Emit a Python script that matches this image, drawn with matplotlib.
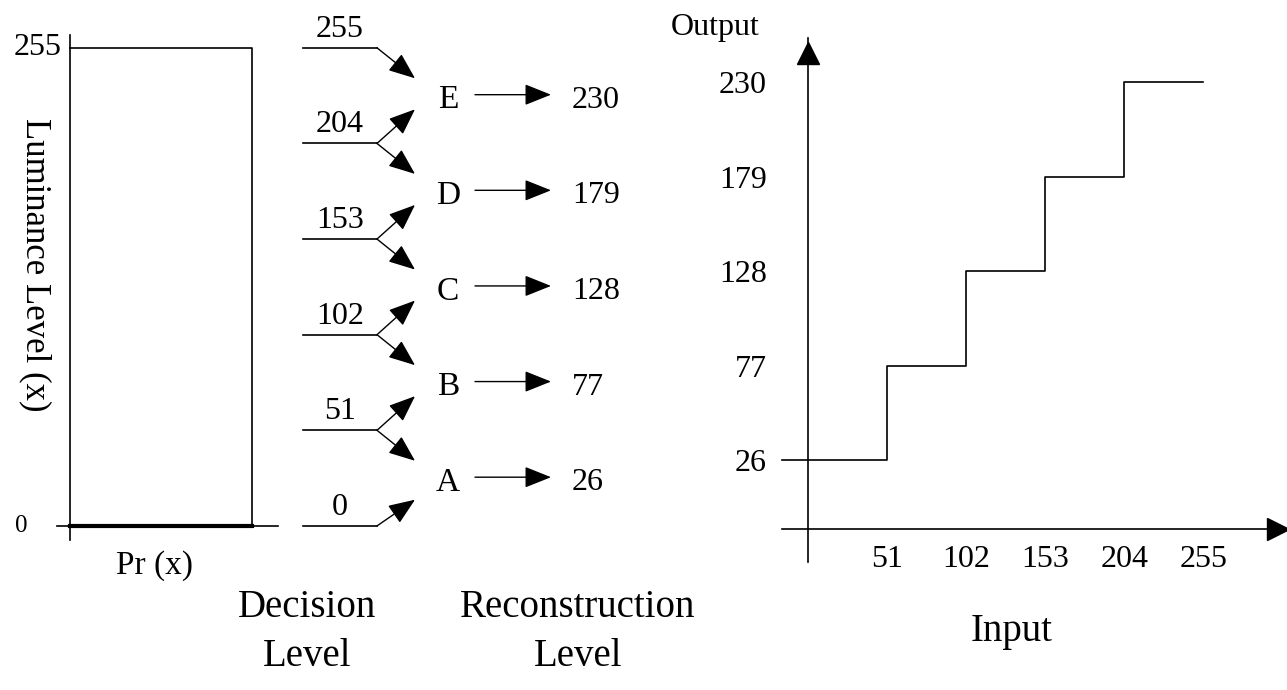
import matplotlib.pyplot as plt
import matplotlib

matplotlib.rcParams['font.family'] = ['Liberation Serif', 'DejaVu Serif']
matplotlib.rcParams['font.size'] = 23

# quantiser data
decision = [0, 51, 102, 153, 204, 255]
recon = [26, 77, 128, 179, 230]
letters = ['A', 'B', 'C', 'D', 'E']

W, H = 1287, 690
fig = plt.figure(figsize=(W / 100, H / 100), dpi=100)

def fx(x):
    return x / W

def fy(y):
    return 1 - y / H

# ---- left part: Pr(x) box + decision / reconstruction diagram
# x in pixels, y in luminance units
ax = fig.add_axes([0, 0, 700 / W, 1])
ax.set_xlim(0, 700)
ax.set_ylim(-87.5, 280.5)
ax.axis('off')

lo, hi = decision[0], decision[-1]
ax.plot([70, 70], [-7.5, 262], color='k', lw=1.2)
ax.plot([57, 278], [lo, lo], color='k', lw=1.2)
ax.plot([70, 252, 252], [hi, hi, lo], color='k', lw=1.2)
ax.plot([70, 252], [lo, lo], color='k', lw=3)
ax.text(62, hi, str(hi), ha='right', va='center')
ax.text(28, lo, str(lo), ha='right', va='center', fontsize=18)
ax.text(35, (hi + lo) / 2 + 12, 'Luminance Level (x)', rotation=270,
        ha='center', va='center', fontsize=25)
ax.text(155, -21, 'Pr (x)', ha='center', va='center', fontsize=24)

aprops = dict(arrowstyle='-|>,head_length=0.55,head_width=0.22',
              mutation_scale=30, color='k', lw=1, shrinkA=0, shrinkB=0)

for i, d in enumerate(decision):
    ax.plot([303, 377], [d, d], color='k', lw=1.2)
    ax.annotate(str(d), (340, d), xytext=(0, 3), textcoords='offset points',
                ha='center', va='bottom')
    if i < len(recon):
        tip = d + (recon[i] - d) * 0.7 if i > 0 else recon[i] - 12
        ax.annotate('', xy=(415, tip), xytext=(377, d), arrowprops=aprops)
    if i > 0:
        tip = d - (d - recon[i - 1]) * 0.65
        ax.annotate('', xy=(415, tip), xytext=(377, d), arrowprops=aprops)

for r, l in zip(recon, letters):
    ax.annotate(l, (448, r), xytext=(0, -4), textcoords='offset points',
                ha='center', va='center', fontsize=24)
    ax.annotate('', xy=(551, r), xytext=(475, r), arrowprops=aprops)
    ax.annotate(str(r), (572, r), xytext=(0, -4), textcoords='offset points',
                ha='left', va='center')

fig.text(fx(307), fy(632), 'Decision\nLevel', ha='center', va='center',
         linespacing=1.45, fontsize=28)
fig.text(fx(578), fy(632), 'Reconstruction\nLevel', ha='center', va='center',
         linespacing=1.45, fontsize=28)

# ---- right part: input/output staircase
axr = fig.add_axes([fx(782), fy(562), (1287 - 782) / W, (562 - 38) / H])
axr.set_xlim(-17, 309)
axr.set_ylim(-29, 254)
for s in ['top', 'right']:
    axr.spines[s].set_visible(False)
axr.spines['left'].set_position(('data', 0))
axr.spines['bottom'].set_position(('data', -11))
axr.spines['left'].set_linewidth(1.2)
axr.spines['bottom'].set_linewidth(1.2)

xs = [-17] + decision[1:]
ys = recon + [recon[-1]]
axr.step(xs, ys, where='post', color='k', lw=1.2, clip_on=False)

axr.set_xticks(decision[1:])
axr.set_xticklabels([str(v) for v in decision[1:]])
axr.set_yticks(recon)
axr.set_yticklabels([str(v) for v in recon])
axr.tick_params(axis='x', length=0, pad=12)
axr.tick_params(axis='y', length=0, pad=30)

axr.plot([0], [246], marker='^', color='k', markersize=16, clip_on=False)
axr.plot([303], [-11], marker='>', color='k', markersize=16, clip_on=False)

fig.text(fx(760), fy(27), 'Output', ha='right', va='center')
fig.text(fx(1012), fy(632), 'Input', ha='center', va='center', fontsize=28)

fig.savefig('out.png', dpi=100)
